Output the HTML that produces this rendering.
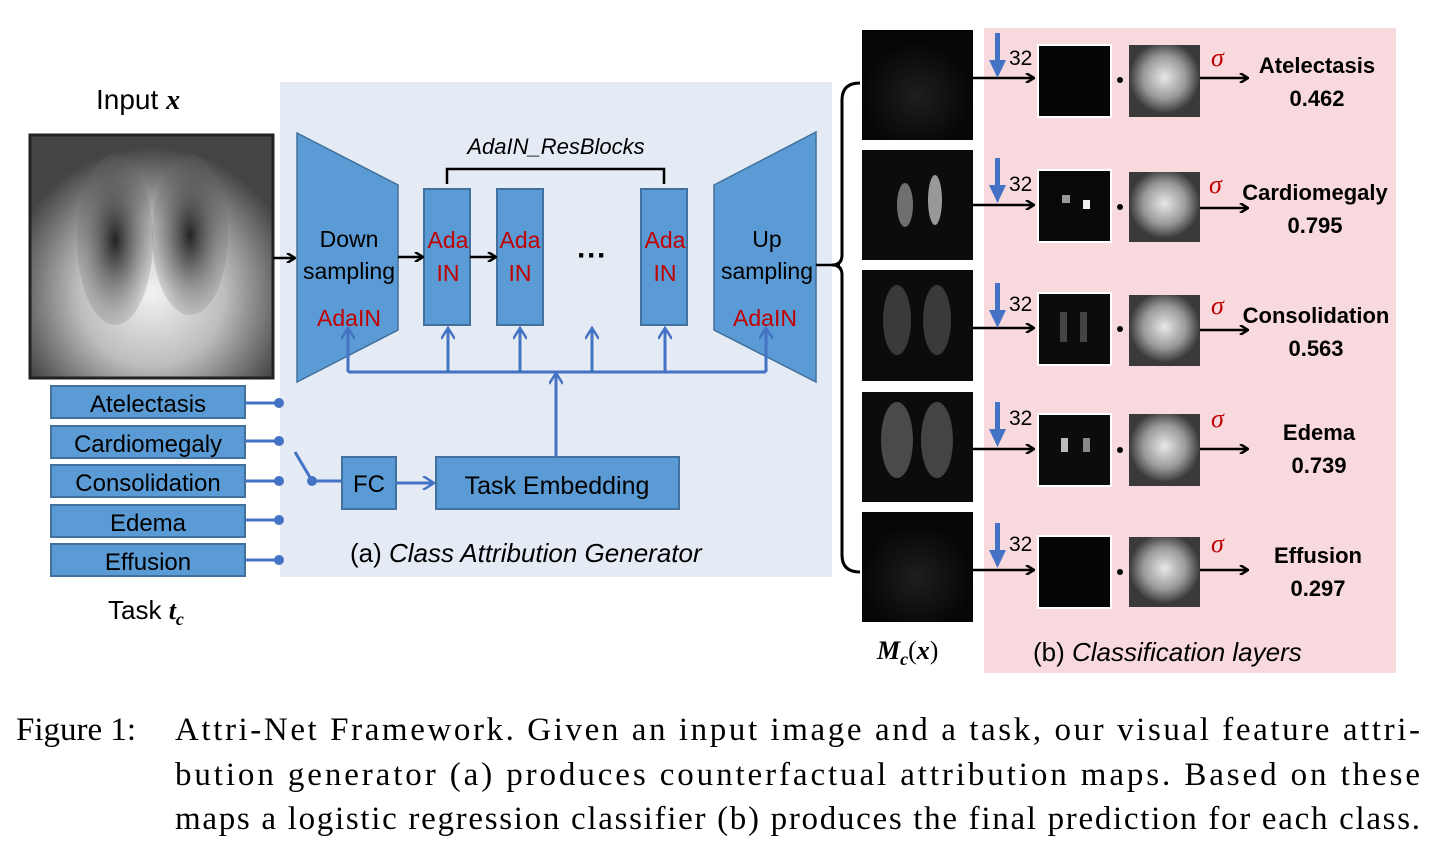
<!DOCTYPE html>
<html><head><meta charset="utf-8"><style>
html,body{margin:0;padding:0;background:#fff;}
svg{display:block;}
.s{font-family:"Liberation Sans","DejaVu Sans",sans-serif;}
.c{font-family:"Liberation Serif",serif;}
</style></head><body>
<svg width="1434" height="848" viewBox="0 0 1434 848" xmlns="http://www.w3.org/2000/svg">
<defs>
<marker id="ak" markerWidth="10" markerHeight="10" refX="9" refY="5" orient="auto" markerUnits="userSpaceOnUse"><path d="M1,0 L9,5 L1,10" fill="none" stroke="#000" stroke-width="2.5"/></marker>
<marker id="ab" markerWidth="14" markerHeight="14" refX="12" refY="7" orient="auto" markerUnits="userSpaceOnUse"><path d="M1,0 L12,7 L1,14" fill="none" stroke="#4472c4" stroke-width="2.5"/></marker>
<radialGradient id="xr" cx="0.5" cy="0.65" r="0.6"><stop offset="0" stop-color="#f2f2f2"/><stop offset="0.5" stop-color="#bdbdbd"/><stop offset="1" stop-color="#444"/></radialGradient>
<radialGradient id="lung" cx="0.5" cy="0.5" r="0.5"><stop offset="0" stop-color="#222"/><stop offset="1" stop-color="#666" stop-opacity="0.2"/></radialGradient>
<radialGradient id="w" cx="0.5" cy="0.45" r="0.5"><stop offset="0" stop-color="#e8e8e8"/><stop offset="0.6" stop-color="#999"/><stop offset="1" stop-color="#3a3a3a"/></radialGradient>
<radialGradient id="mc" cx="0.5" cy="0.6" r="0.5"><stop offset="0" stop-color="#1e1e1e"/><stop offset="1" stop-color="#060606"/></radialGradient>
</defs>

<rect x="280" y="82" width="552" height="495" fill="#e4ebf4"/>
<rect x="984" y="28" width="412" height="645" fill="#f8d9de"/>

<text x="96" y="109" class="s" font-size="28">Input <tspan class="c" font-weight="bold" font-style="italic">x</tspan></text>
<rect x="30" y="135" width="243" height="243" fill="url(#xr)"/>
<ellipse cx="115" cy="240" rx="38" ry="85" fill="url(#lung)"/>
<ellipse cx="190" cy="235" rx="38" ry="80" fill="url(#lung)"/>
<rect x="30" y="135" width="243" height="243" fill="none" stroke="#222" stroke-width="3"/>

<g class="s" font-size="24" text-anchor="middle">
<rect x="51" y="386" width="194" height="32" fill="#5b9bd5" stroke="#41719c" stroke-width="2"/><text x="148" y="412">Atelectasis</text>
<rect x="51" y="426" width="194" height="32" fill="#5b9bd5" stroke="#41719c" stroke-width="2"/><text x="148" y="452">Cardiomegaly</text>
<rect x="51" y="465" width="194" height="32" fill="#5b9bd5" stroke="#41719c" stroke-width="2"/><text x="148" y="491">Consolidation</text>
<rect x="51" y="505" width="194" height="32" fill="#5b9bd5" stroke="#41719c" stroke-width="2"/><text x="148" y="531">Edema</text>
<rect x="51" y="544" width="194" height="32" fill="#5b9bd5" stroke="#41719c" stroke-width="2"/><text x="148" y="570">Effusion</text>
</g>
<g stroke="#4472c4" stroke-width="3" fill="#4472c4">
<line x1="245" y1="403" x2="279" y2="403"/><circle cx="279" cy="403" r="5" stroke="none"/>
<line x1="245" y1="441" x2="279" y2="441"/><circle cx="279" cy="441" r="5" stroke="none"/>
<line x1="245" y1="481" x2="279" y2="481"/><circle cx="279" cy="481" r="5" stroke="none"/>
<line x1="245" y1="520" x2="279" y2="520"/><circle cx="279" cy="520" r="5" stroke="none"/>
<line x1="245" y1="560" x2="279" y2="560"/><circle cx="279" cy="560" r="5" stroke="none"/>
<line x1="295" y1="452" x2="311" y2="479"/><circle cx="312" cy="481" r="5" stroke="none"/>
<line x1="312" y1="481" x2="342" y2="481"/>
</g>
<text x="108" y="619" class="s" font-size="26">Task <tspan class="c" font-weight="bold" font-style="italic">t<tspan font-size="18" dy="6">c</tspan></tspan></text>

<rect x="342" y="457" width="54" height="52" fill="#5b9bd5" stroke="#41719c" stroke-width="2"/>
<text x="369" y="492" class="s" font-size="24" text-anchor="middle">FC</text>
<line x1="396" y1="483" x2="434" y2="483" stroke="#4472c4" stroke-width="3" marker-end="url(#ab)"/>
<rect x="436" y="457" width="243" height="52" fill="#5b9bd5" stroke="#41719c" stroke-width="2"/>
<text x="557" y="494" class="s" font-size="25" text-anchor="middle">Task Embedding</text>

<polygon points="297,133 398,185 398,330 297,382" fill="#5b9bd5" stroke="#41719c" stroke-width="1.5"/>
<polygon points="714,185 816,132 816,382 714,330" fill="#5b9bd5" stroke="#41719c" stroke-width="1.5"/>
<rect x="424" y="189" width="46" height="136" fill="#5b9bd5" stroke="#41719c" stroke-width="2"/>
<rect x="497" y="189" width="46" height="136" fill="#5b9bd5" stroke="#41719c" stroke-width="2"/>
<rect x="641" y="189" width="46" height="136" fill="#5b9bd5" stroke="#41719c" stroke-width="2"/>
<g class="s" font-size="23" text-anchor="middle">
<text x="349" y="247">Down</text><text x="349" y="279">sampling</text>
<text x="349" y="326" fill="#c00000">AdaIN</text>
<text x="767" y="247">Up</text><text x="767" y="279">sampling</text>
<text x="765" y="326" fill="#c00000">AdaIN</text>
<g fill="#c00000"><text x="448" y="248">Ada</text><text x="448" y="281">IN</text>
<text x="520" y="248">Ada</text><text x="520" y="281">IN</text>
<text x="665" y="248">Ada</text><text x="665" y="281">IN</text></g>
</g>
<text x="592" y="265" class="s" font-size="30" text-anchor="middle" font-weight="bold">···</text>
<text x="556" y="154" class="s" font-size="22" font-style="italic" text-anchor="middle">AdaIN_ResBlocks</text>
<path d="M447,184 V169 H664 V184" fill="none" stroke="#000" stroke-width="2.5"/>
<g stroke="#000" stroke-width="2.5">
<line x1="273" y1="258" x2="295" y2="258" marker-end="url(#ak)"/>
<line x1="398" y1="257" x2="423" y2="257" marker-end="url(#ak)"/>
<line x1="470" y1="257" x2="496" y2="257" marker-end="url(#ak)"/>
<line x1="816" y1="265" x2="840" y2="265"/>
</g>
<path d="M860,83 Q842,83 842,100 V255 Q842,265 832,265 Q842,265 842,275 V555 Q842,572 860,572" fill="none" stroke="#000" stroke-width="3"/>
<g stroke="#4472c4" stroke-width="3" fill="none">
<line x1="556" y1="457" x2="556" y2="373" marker-end="url(#ab)"/>
<line x1="348" y1="372" x2="766" y2="372"/>
<line x1="348" y1="372" x2="348" y2="328" marker-end="url(#ab)"/>
<line x1="448" y1="372" x2="448" y2="328" marker-end="url(#ab)"/>
<line x1="520" y1="372" x2="520" y2="328" marker-end="url(#ab)"/>
<line x1="592" y1="372" x2="592" y2="328" marker-end="url(#ab)"/>
<line x1="665" y1="372" x2="665" y2="328" marker-end="url(#ab)"/>
<line x1="766" y1="372" x2="766" y2="328" marker-end="url(#ab)"/>
</g>
<text x="350" y="562" class="s" font-size="26">(a)  <tspan font-style="italic">Class Attribution Generator</tspan></text>

<rect x="862" y="30" width="111" height="110" fill="url(#mc)"/>
<rect x="862" y="150" width="111" height="110" fill="#0c0c0c"/>
<ellipse cx="905" cy="205" rx="8" ry="22" fill="#888" opacity="0.8"/><ellipse cx="935" cy="200" rx="7" ry="25" fill="#bbb" opacity="0.8"/>
<rect x="862" y="270" width="111" height="111" fill="#0c0c0c"/>
<ellipse cx="897" cy="320" rx="14" ry="35" fill="#3a3a3a"/><ellipse cx="937" cy="320" rx="14" ry="35" fill="#3a3a3a"/>
<rect x="862" y="392" width="111" height="110" fill="#0c0c0c"/>
<ellipse cx="897" cy="440" rx="16" ry="38" fill="#4a4a4a"/><ellipse cx="937" cy="440" rx="16" ry="38" fill="#444"/>
<rect x="862" y="512" width="111" height="110" fill="url(#mc)"/>

<g stroke="#000" stroke-width="2.5">
<line x1="973" y1="78" x2="1034" y2="78" marker-end="url(#ak)"/>
<line x1="973" y1="205" x2="1034" y2="205" marker-end="url(#ak)"/>
<line x1="973" y1="328" x2="1034" y2="328" marker-end="url(#ak)"/>
<line x1="973" y1="449" x2="1034" y2="449" marker-end="url(#ak)"/>
<line x1="973" y1="570" x2="1034" y2="570" marker-end="url(#ak)"/>
<line x1="1200" y1="78" x2="1248" y2="78" marker-end="url(#ak)"/>
<line x1="1200" y1="208" x2="1248" y2="208" marker-end="url(#ak)"/>
<line x1="1200" y1="330" x2="1248" y2="330" marker-end="url(#ak)"/>
<line x1="1200" y1="449" x2="1248" y2="449" marker-end="url(#ak)"/>
<line x1="1200" y1="570" x2="1248" y2="570" marker-end="url(#ak)"/>
</g>
<g fill="#4472c4">
<rect x="995" y="33" width="5" height="30"/><polygon points="989,60 1006,60 997.5,78"/>
<rect x="995" y="158" width="5" height="30"/><polygon points="989,185 1006,185 997.5,203"/>
<rect x="995" y="283" width="5" height="30"/><polygon points="989,310 1006,310 997.5,328"/>
<rect x="995" y="402" width="5" height="30"/><polygon points="989,429 1006,429 997.5,447"/>
<rect x="995" y="523" width="5" height="30"/><polygon points="989,550 1006,550 997.5,568"/>
</g>
<g class="s" font-size="21">
<text x="1009" y="65">32</text><text x="1009" y="191">32</text><text x="1009" y="311">32</text><text x="1009" y="425">32</text><text x="1009" y="551">32</text>
</g>
<g stroke="#fff" stroke-width="2">
<rect x="1038" y="45" width="73" height="72" fill="#050505"/>
<rect x="1038" y="170" width="73" height="72" fill="#080808"/>
<rect x="1038" y="293" width="73" height="72" fill="#0c0c0c"/>
<rect x="1038" y="414" width="73" height="72" fill="#0c0c0c"/>
<rect x="1038" y="536" width="73" height="72" fill="#050505"/>
</g>
<rect x="1062" y="195" width="8" height="8" fill="#999"/><rect x="1083" y="200" width="7" height="9" fill="#eee"/>
<rect x="1060" y="312" width="7" height="30" fill="#444"/><rect x="1080" y="312" width="7" height="30" fill="#444"/>
<rect x="1061" y="438" width="7" height="14" fill="#bbb"/><rect x="1083" y="438" width="7" height="14" fill="#888"/>
<rect x="1129" y="45" width="71" height="72" fill="url(#w)"/>
<rect x="1129" y="172" width="71" height="70" fill="url(#w)"/>
<rect x="1129" y="295" width="71" height="71" fill="url(#w)"/>
<rect x="1129" y="414" width="71" height="72" fill="url(#w)"/>
<rect x="1129" y="537" width="71" height="70" fill="url(#w)"/>
<g fill="#000"><circle cx="1120" cy="80" r="3"/><circle cx="1120" cy="207" r="3"/><circle cx="1120" cy="329" r="3"/><circle cx="1120" cy="450" r="3"/><circle cx="1120" cy="572" r="3"/></g>
<g class="c" font-size="26" fill="#c00000" font-style="italic">
<text x="1211" y="66">σ</text><text x="1209" y="193">σ</text><text x="1211" y="314">σ</text><text x="1211" y="427">σ</text><text x="1211" y="552">σ</text>
</g>
<g class="s" font-size="22" font-weight="bold" text-anchor="middle">
<text x="1317" y="73">Atelectasis</text><text x="1317" y="106">0.462</text>
<text x="1315" y="200">Cardiomegaly</text><text x="1315" y="233">0.795</text>
<text x="1316" y="323">Consolidation</text><text x="1316" y="356">0.563</text>
<text x="1319" y="440">Edema</text><text x="1319" y="473">0.739</text>
<text x="1318" y="563">Effusion</text><text x="1318" y="596">0.297</text>
</g>
<text x="877" y="659" class="c" font-size="26" font-weight="bold" font-style="italic">M<tspan font-size="18" dy="6">c</tspan><tspan dy="-6" font-weight="normal" font-style="normal">(</tspan>x<tspan font-weight="normal" font-style="normal">)</tspan></text>
<text x="1033" y="661" class="s" font-size="26">(b) <tspan font-style="italic">Classification layers</tspan></text>

<g class="c" font-size="33">
<text x="16" y="740">Figure 1:</text>
<text x="175" y="740" textLength="1245" lengthAdjust="spacing">Attri-Net Framework. Given an input image and a task, our visual feature attri-</text>
<text x="175" y="785" textLength="1245" lengthAdjust="spacing">bution generator (a) produces counterfactual attribution maps. Based on these</text>
<text x="175" y="829" textLength="1245" lengthAdjust="spacing">maps a logistic regression classifier (b) produces the final prediction for each class.</text>
</g>
</svg>
</body></html>
